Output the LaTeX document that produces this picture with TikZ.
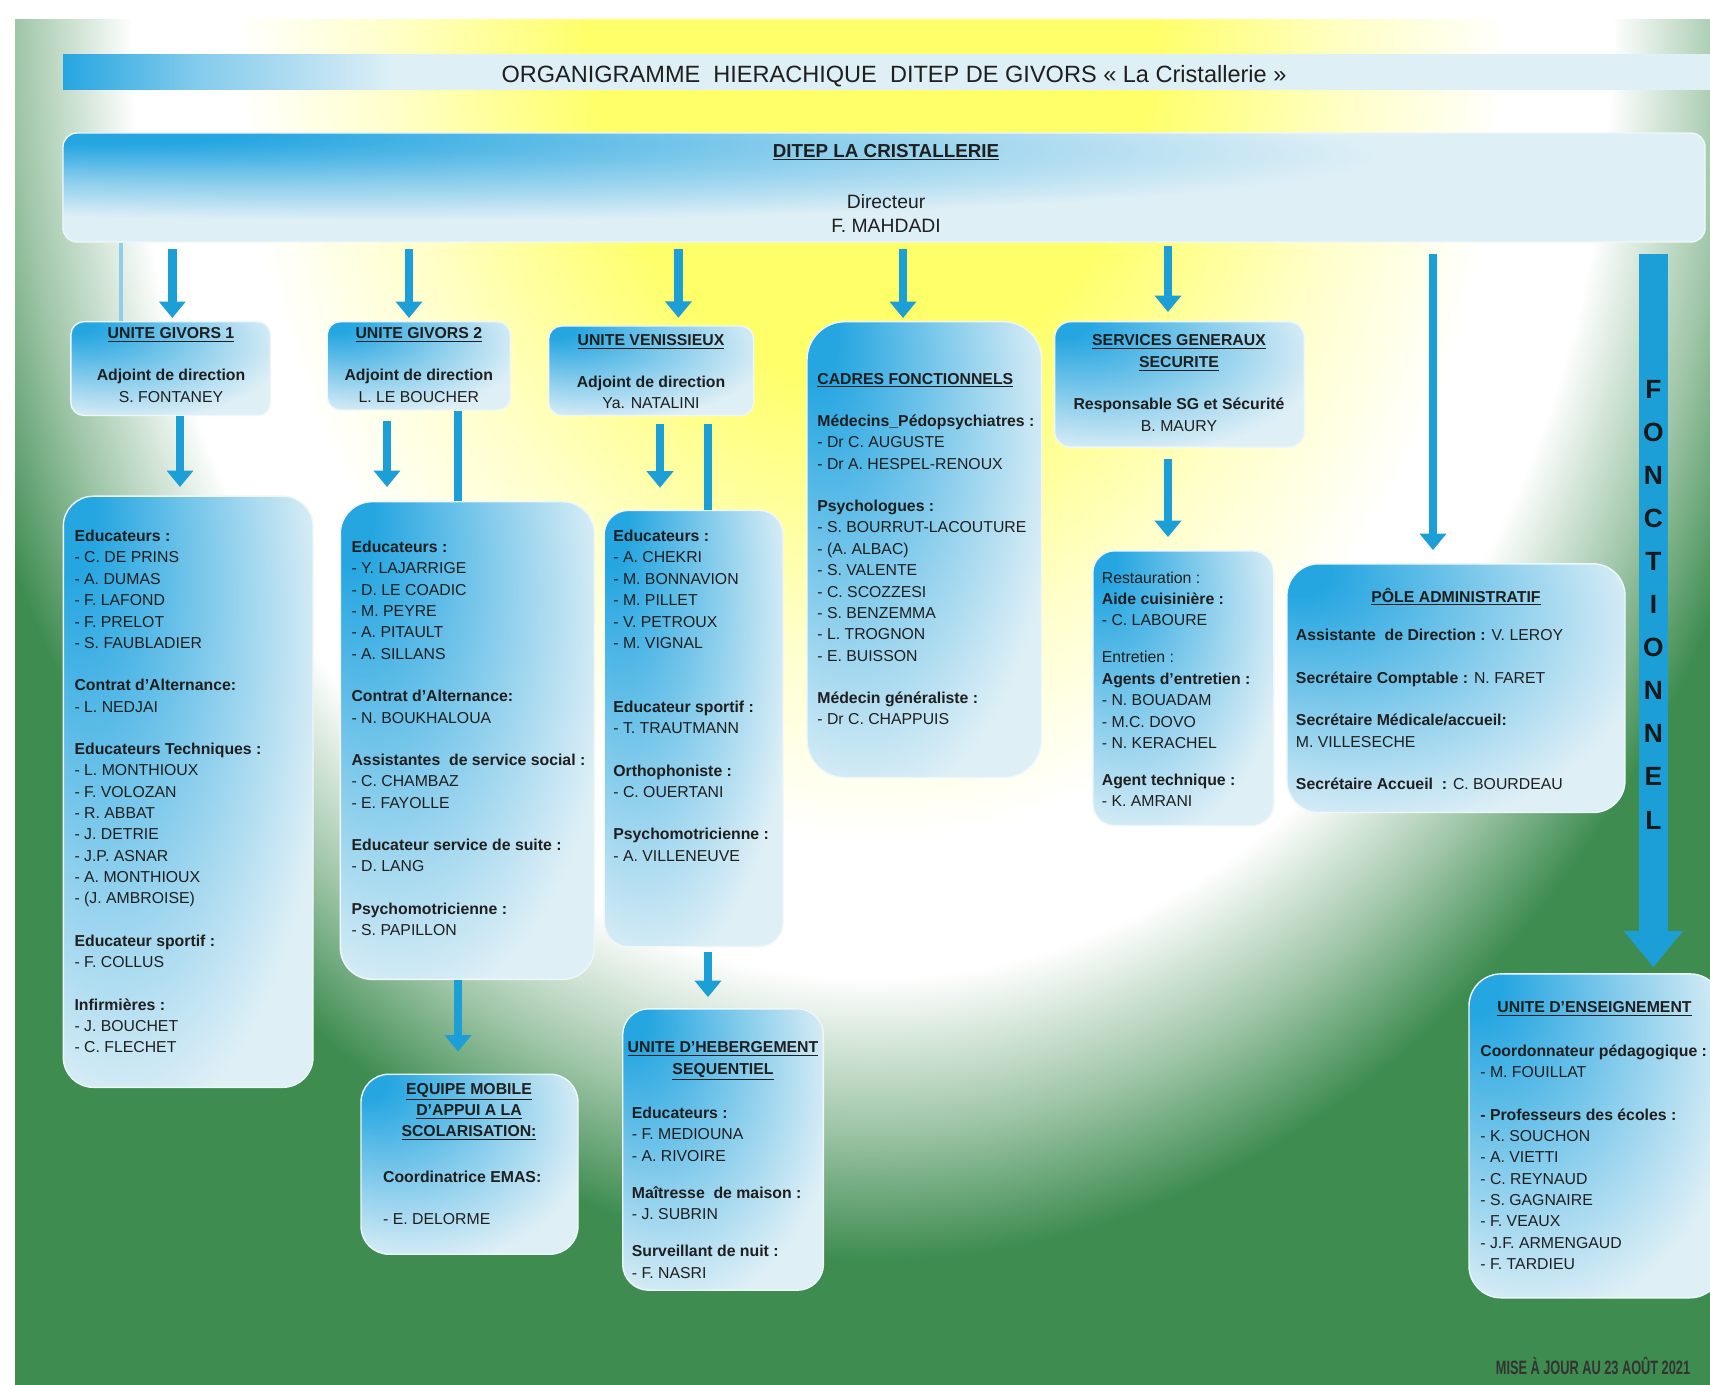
\documentclass[tikz,border=0pt]{standalone}
\usepackage{fontspec}
\setmainfont{Liberation Sans}
\newfontfamily\etroite[FakeStretch=0.66]{Liberation Sans}
\usetikzlibrary{arrows.meta,fit}

\definecolor{boxblue}{RGB}{38,166,225}
\definecolor{boxlight}{RGB}{222,239,246}
\definecolor{flecheblue}{RGB}{28,158,215}
\definecolor{fondvert}{RGB}{62,140,80}
\definecolor{fondjaune}{RGB}{255,255,105}

\pgfdeclareradialshading{boxshade}{\pgfpoint{-25bp}{25bp}}{color(0bp)=(boxblue); color(5bp)=(boxblue); color(24bp)=(boxblue!45!boxlight); color(40bp)=(boxlight); color(75bp)=(boxlight)}
\pgfdeclareradialshading{dirshade}{\pgfpoint{-25bp}{25bp}}{color(0bp)=(boxblue); color(4bp)=(boxblue); color(16bp)=(boxblue!50!boxlight); color(30bp)=(boxlight); color(75bp)=(boxlight)}
\pgfdeclarehorizontalshading{bandeshade}{100bp}{color(0bp)=(boxblue); color(25bp)=(boxblue); color(29bp)=(boxblue!50!boxlight); color(35bp)=(boxlight); color(100bp)=(boxlight)}
\pgfdeclareradialshading{fondshade}{\pgfpointorigin}{color(0bp)=(fondjaune); color(5.5bp)=(fondjaune); color(9.5bp)=(fondjaune!35!white); color(12.5bp)=(white); color(14.5bp)=(white); color(16.8bp)=(fondvert!50!white); color(18.8bp)=(fondvert); color(25bp)=(fondvert)}

\newcommand\corps{\fontsize{9}{12.15}\selectfont}

\tikzset{
  cadre/.style={rounded corners=0.26cm, shading=boxshade, draw=white!50!boxlight, line width=0.8pt, inner sep=0pt},
  texte/.style={font=\corps, align=left, anchor=north west, inner sep=0pt, text=black!88},
  entete/.style={font=\corps, align=center, anchor=north, inner sep=0pt, text=black!88},
  fleche/.style={draw=flecheblue, line width=0.17cm, -{Triangle[width=0.52cm,length=0.33cm]}},
  barre/.style={draw=flecheblue, line width=0.17cm},
  filet/.style={draw=flecheblue!50!white, line width=0.07cm},
  grandefleche/.style={draw=flecheblue, line width=0.57cm, -{Triangle[width=1.13cm,length=0.72cm]}},
  lettre/.style={font=\fontsize{15}{18}\selectfont\bfseries, inner sep=0pt, text=black!90},
}

\begin{document}
\begin{tikzpicture}[x=0.02cm, y=-0.02cm]
    % Fond
    \useasboundingbox (0,0) rectangle (1710,1385);
    \clip (0,0) rectangle (1710,1385);
    \fill[white] (0,0) rectangle (1710,1385);
    \fill[fondvert] (15,20) rectangle (1710,1385);
    \begin{scope}
      \clip (15,20) rectangle (1710,1385);
      \shade[shading=fondshade] (872,20) ellipse [x radius=25.5cm, y radius=33cm];
    \end{scope}

    % Bandeau titre
    \node[fit={(63,54.5) (1712,89.4)}, inner sep=0pt, shading=bandeshade] (bandeau) {};
    \node[font=\fontsize{13.4}{16}\selectfont, anchor=base, text=black!88] (titre) at (894,82.4)
      {ORGANIGRAMME~~HIERACHIQUE~~DITEP DE GIVORS « La Cristallerie »};

    % Direction
    \node[cadre, shading=dirshade, rounded corners=0.28cm, fit={(63,133) (1705,242)}] (dir) {};
    \node[entete, font=\fontsize{10.7}{13}\selectfont\bfseries, anchor=base] (ditep) at (886,157.2)
      {\underline{DITEP LA CRISTALLERIE}};
    \node[entete, font=\fontsize{11}{13.7}\selectfont] (directeur) at (886,193.8) {Directeur\\F. MAHDADI};

    % Unites
    \node[cadre, fit={(70.9,321.7) (270.5,415.5)}] (givA) {};
    \node[entete] (givAtxt) at (171,326.9)
      {\textbf{\underline{UNITE GIVORS 1}}\\[12pt]\textbf{Adjoint de direction}\\S. FONTANEY};
    \node[cadre, fit={(327.2,321.7) (510.4,410)}] (givB) {};
    \node[entete] (givBtxt) at (418.8,326.9)
      {\textbf{\underline{UNITE GIVORS 2}}\\[12pt]\textbf{Adjoint de direction}\\L. LE BOUCHER};
    \node[cadre, fit={(548.6,326) (753.6,415.5)}] (venis) {};
    \node[entete] (venistxt) at (651,334.6)
      {\textbf{\underline{UNITE VENISSIEUX}}\\[11.4pt]\textbf{Adjoint de direction}\\Ya. NATALINI};
    \node[cadre, rounded corners=0.32cm, fit={(1054.6,321.7) (1304.4,447.1)}] (servgen) {};
    \node[entete] (servgentxt) at (1179,334.6)
      {\textbf{\underline{SERVICES GENERAUX}}\\\textbf{\underline{SECURITE}}\\[12pt]\textbf{Responsable SG et Sécurité}\\B. MAURY};

    % Cadres fonctionnels
    \node[cadre, rounded corners=0.76cm, fit={(807,321.7) (1041.5,777.6)}] (cadres) {};
    \node[texte] (cadrestxt) at (817,372.7)
      {\textbf{\underline{CADRES FONCTIONNELS}}\\[12pt]
       \textbf{Médecins\_Pédopsychiatres :}\\- Dr C. AUGUSTE\\- Dr A. HESPEL-RENOUX\\[12pt]
       \textbf{Psychologues :}\\- S. BOURRUT-LACOUTURE\\- (A. ALBAC)\\- S. VALENTE\\- C. SCOZZESI\\- S. BENZEMMA\\- L. TROGNON\\- E. BUISSON\\[12pt]
       \textbf{Médecin généraliste :}\\- Dr C. CHAPPUIS};

    % Equipes
    \node[cadre, rounded corners=0.6cm, fit={(63.3,496.2) (313,1087.3)}] (eduA) {};
    \node[texte] (eduAtxt) at (74.2,529.8)
      {\textbf{Educateurs :}\\- C. DE PRINS\\- A. DUMAS\\- F. LAFOND\\- F. PRELOT\\- S. FAUBLADIER\\[12pt]
       \textbf{Contrat d'Alternance:}\\- L. NEDJAI\\[12pt]
       \textbf{Educateurs Techniques :}\\- L. MONTHIOUX\\- F. VOLOZAN\\- R. ABBAT\\- J. DETRIE\\- J.P. ASNAR\\- A. MONTHIOUX\\- (J. AMBROISE)\\[12pt]
       \textbf{Educateur sportif :}\\- F. COLLUS\\[12pt]
       \textbf{Infirmières :}\\- J. BOUCHET\\- C. FLECHET};
    \node[cadre, rounded corners=0.64cm, fit={(340.3,501.7) (594.4,979.4)}] (eduB) {};
    \node[texte] (eduBtxt) at (351.2,540.7)
      {\textbf{Educateurs :}\\- Y. LAJARRIGE\\- D. LE COADIC\\- M. PEYRE\\- A. PITAULT\\- A. SILLANS\\[12pt]
       \textbf{Contrat d'Alternance:}\\- N. BOUKHALOUA\\[12pt]
       \textbf{Assistantes~~de service social :}\\- C. CHAMBAZ\\- E. FAYOLLE\\[12pt]
       \textbf{Educateur service de suite :}\\- D. LANG\\[12pt]
       \textbf{Psychomotricienne :}\\- S. PAPILLON};
    \node[cadre, rounded corners=0.48cm, fit={(604.2,510.4) (783,946.6)}] (eduV) {};
    \node[texte] (eduVtxt) at (613,529.8)
      {\textbf{Educateurs :}\\- A. CHEKRI\\- M. BONNAVION\\- M. PILLET\\- V. PETROUX\\- M. VIGNAL\\[24.3pt]
       \textbf{Educateur sportif :}\\- T. TRAUTMANN\\[12pt]
       \textbf{Orthophoniste :}\\- C. OUERTANI\\[12pt]
       \textbf{Psychomotricienne :}\\- A. VILLENEUVE};
    \node[cadre, rounded corners=0.44cm, fit={(1092.8,550.8) (1273.8,825.6)}] (restau) {};
    \node[texte] (restautxt) at (1101.5,571.3)
      {Restauration :\\\textbf{Aide cuisinière :}\\- C. LABOURE\\[9pt]
       Entretien :\\\textbf{Agents d'entretien :}\\- N. BOUADAM\\- M.C. DOVO\\- N. KERACHEL\\[9pt]
       \textbf{Agent technique :}\\- K. AMRANI};
    \node[cadre, rounded corners=0.64cm, fit={(1286.9,563.8) (1625,812.5)}] (pole) {};
    \node[entete] (poletitre) at (1456,587.6) {\textbf{\underline{PÔLE ADMINISTRATIF}}};
    \node[texte] (poletxt) at (1295.6,629)
      {\textbf{Assistante~~de Direction :} V. LEROY\\[12pt]
       \textbf{Secrétaire Comptable :} N. FARET\\[12pt]
       \textbf{Secrétaire Médicale/accueil:}\\M. VILLESECHE\\[12pt]
       \textbf{Secrétaire Accueil~~:} C. BOURDEAU};

    % Niveau bas
    \node[cadre, rounded corners=0.56cm, fit={(361,1074.2) (578,1254.2)}] (emas) {};
    \node[entete] (emastitre) at (469,1082.7)
      {\textbf{\underline{EQUIPE MOBILE}}\\\textbf{\underline{D'APPUI A LA}}\\\textbf{\underline{SCOLARISATION:}}};
    \node[texte] (emastxt) at (382.8,1171.1) {\textbf{Coordinatrice EMAS:}\\[11.5pt]- E. DELORME};
    \node[cadre, rounded corners=0.52cm, fit={(622.7,1008.8) (823.4,1290.2)}] (heberg) {};
    \node[entete] (hebergtitre) at (723,1041.3)
      {\textbf{\underline{UNITE D'HEBERGEMENT}}\\\textbf{\underline{SEQUENTIEL}}};
    \node[texte] (hebergtxt) at (631.5,1106.7)
      {\textbf{Educateurs :}\\- F. MEDIOUNA\\- A. RIVOIRE\\[9pt]
       \textbf{Maîtresse~~de maison :}\\- J. SUBRIN\\[9pt]
       \textbf{Surveillant de nuit :}\\- F. NASRI};
    \node[cadre, rounded corners=0.64cm, fit={(1469,973.9) (1722,1297.8)}] (enseign) {};
    \node[entete] (enseigntitre) at (1594.5,1000.9) {\textbf{\underline{UNITE D'ENSEIGNEMENT}}};
    \node[texte] (enseigntxt) at (1480,1044.5)
      {\textbf{Coordonnateur pédagogique :}\\- M. FOUILLAT\\[12pt]
       \textbf{- Professeurs des écoles :}\\- K. SOUCHON\\- A. VIETTI\\- C. REYNAUD\\- S. GAGNAIRE\\- F. VEAUX\\- J.F. ARMENGAUD\\- F. TARDIEU};

    % Liaisons
    \coordinate (c0) at (121,0);
    \coordinate (a1) at (172.3,0);
    \coordinate (a2) at (409,0);
    \coordinate (a3) at (678.4,0);
    \coordinate (a4) at (903,0);
    \coordinate (a5) at (1168,0);
    \coordinate (a6) at (1433,0);
    \coordinate (a7) at (1653.4,0);
    \coordinate (b1) at (180,0);
    \coordinate (b2) at (387,0);
    \coordinate (b3) at (458,0);
    \coordinate (b4) at (660,0);
    \coordinate (b5) at (708,0);

    \draw[filet] (dir.south -| c0) -- (givA.north -| c0);
    \foreach \x/\cible in {a1/givA, a2/givB, a4/cadres}
      \draw[fleche, shorten <=0.13cm, shorten >=0.06cm] (dir.south -| \x) -- (\cible.north -| \x);
    \draw[fleche, shorten <=0.13cm, shorten >=0.15cm] (dir.south -| a3) -- (venis.north -| a3);
    \draw[fleche, shorten <=0.06cm, shorten >=0.18cm] (dir.south -| a5) -- (servgen.north -| a5);
    \draw[fleche, shorten <=0.22cm, shorten >=0.26cm] (dir.south -| a6) -- (pole.north -| a6);

    \draw[fleche, shorten >=0.17cm] (givA.south -| b1) -- (eduA.north -| b1);
    \draw[fleche, shorten <=0.2cm, shorten >=0.28cm] (givB.south -| b2) -- (eduB.north -| b2);
    \draw[barre] (givB.south -| b3) -- (eduB.north -| b3);
    \draw[fleche, shorten >=0.44cm] (eduB.south -| b3) -- (emas.north -| b3);
    \draw[fleche, shorten <=0.15cm, shorten >=0.44cm] (venis.south -| b4) -- (eduV.north -| b4);
    \draw[barre, shorten <=0.15cm] (venis.south -| b5) -- (eduV.north -| b5);
    \draw[fleche, shorten <=0.09cm, shorten >=0.22cm] (eduV.south -| b5) -- (heberg.north -| b5);
    \draw[fleche, shorten <=0.22cm, shorten >=0.26cm] (servgen.south -| a5) -- (restau.north -| a5);

    % Fleche fonctionnelle
    \draw[grandefleche, shorten <=0.22cm, shorten >=0.12cm] (dir.south -| a7) -- (enseign.north -| a7);
    \foreach \l [count=\i] in {F,O,N,C,T,I,O,N,N,E,L}
      \node[lettre] (f\i) at (1653.4, {389+43.1*(\i-1)}) {\l};

    % Date
    \node[font=\etroite\bfseries\fontsize{11}{13}\selectfont, text=black!80, anchor=base] (maj) at (1593,1374)
      {MISE À JOUR AU 23 AOÛT 2021};
\end{tikzpicture}
\end{document}
